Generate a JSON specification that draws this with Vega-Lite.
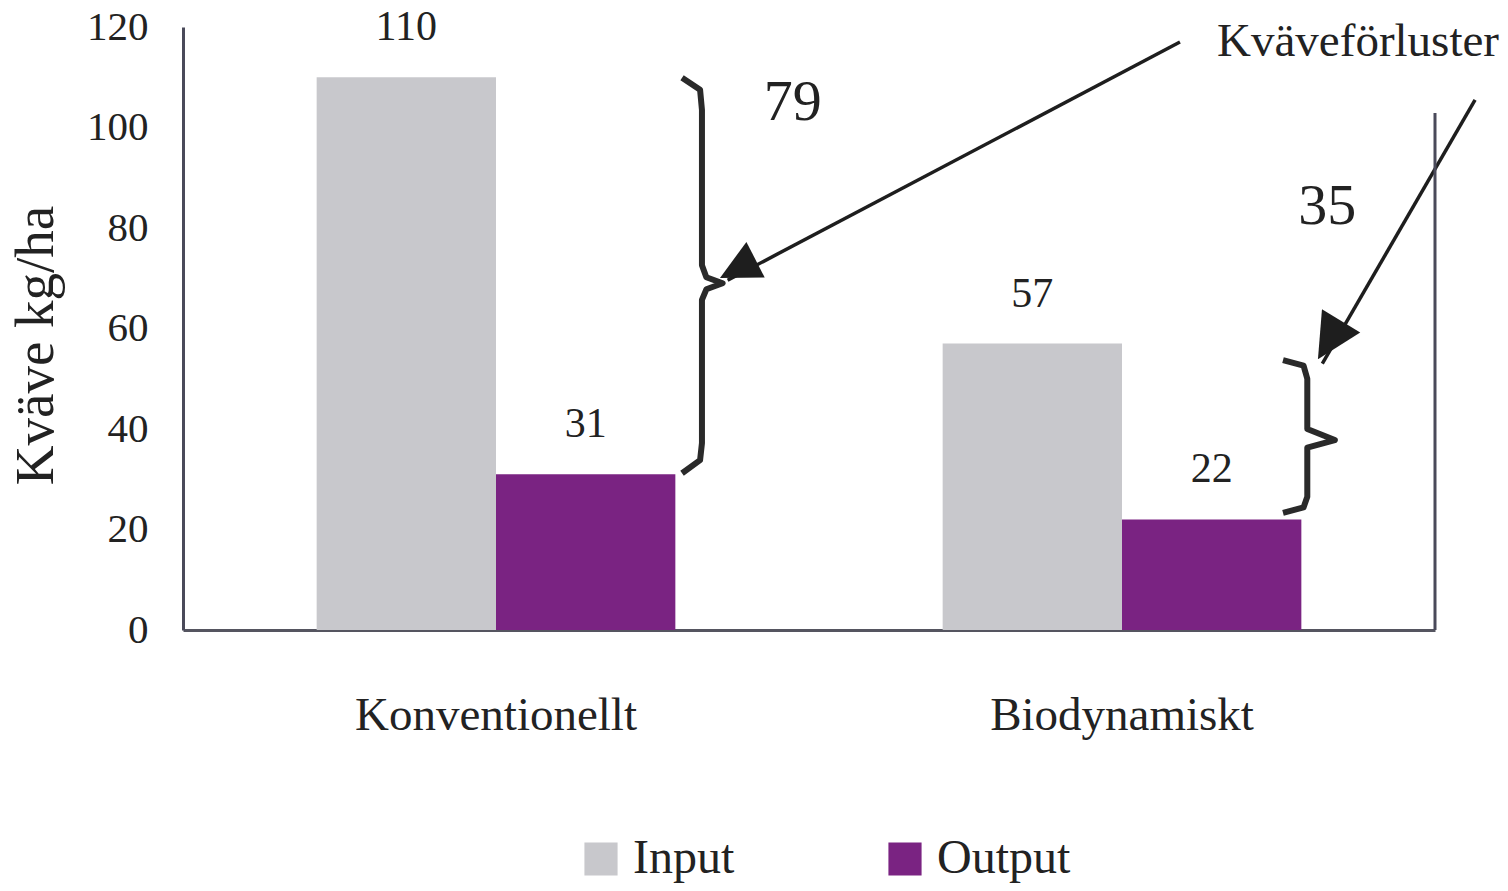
{
  "$schema": "https://vega.github.io/schema/vega-lite/v6.json",
  "width": 1252,
  "height": 603,
  "autosize": "none",
  "padding": {"left": 183, "top": 27, "right": 73, "bottom": 261},
  "background": "white",
  "config": {
    "view": {"stroke": null},
    "font": "Liberation Serif",
    "text": {"font": "Liberation Serif", "color": "#222222"}
  },
  "datasets": {
    "bars": [
      {"system": "Konventionellt", "kind": "Input", "value": 110},
      {"system": "Konventionellt", "kind": "Output", "value": 31},
      {"system": "Biodynamiskt", "kind": "Input", "value": 57},
      {"system": "Biodynamiskt", "kind": "Output", "value": 22}
    ],
    "braces": [
      {"brace": "a", "i": 0, "x": 39.86, "y": 109.9},
      {"brace": "a", "i": 1, "x": 41.3, "y": 107.5},
      {"brace": "a", "i": 2, "x": 41.45, "y": 103.5},
      {"brace": "a", "i": 3, "x": 41.45, "y": 72.6},
      {"brace": "a", "i": 4, "x": 41.8, "y": 70.2},
      {"brace": "a", "i": 5, "x": 43.1, "y": 69.0},
      {"brace": "a", "i": 6, "x": 41.8, "y": 67.8},
      {"brace": "a", "i": 7, "x": 41.45, "y": 65.7},
      {"brace": "a", "i": 8, "x": 41.45, "y": 37.2},
      {"brace": "a", "i": 9, "x": 41.3, "y": 33.8},
      {"brace": "a", "i": 10, "x": 39.86, "y": 31.2},
      {"brace": "b", "i": 0, "x": 87.86, "y": 53.7},
      {"brace": "b", "i": 1, "x": 89.5, "y": 52.6},
      {"brace": "b", "i": 2, "x": 89.8, "y": 50.0},
      {"brace": "b", "i": 3, "x": 89.8, "y": 40.0},
      {"brace": "b", "i": 4, "x": 92.0, "y": 37.8},
      {"brace": "b", "i": 5, "x": 89.8, "y": 36.3},
      {"brace": "b", "i": 6, "x": 89.8, "y": 26.5},
      {"brace": "b", "i": 7, "x": 89.5, "y": 24.4},
      {"brace": "b", "i": 8, "x": 87.86, "y": 23.3}
    ],
    "arrows": [
      {"arrow": "a", "i": 0, "x": 79.63, "y": 117.0},
      {"arrow": "a", "i": 1, "x": 43.5, "y": 69.6},
      {"arrow": "b", "i": 0, "x": 103.2, "y": 105.5},
      {"arrow": "b", "i": 1, "x": 91.0, "y": 53.0}
    ],
    "headA": [{"x": 42.89, "y": 70.05}],
    "headB": [{"x": 90.65, "y": 53.9}],
    "bigNums": [
      {"label": "79", "x": 48.7, "y": 104.9},
      {"label": "35", "x": 91.4, "y": 84.2}
    ],
    "note": [{"label": "Kväveförluster", "x": 93.85, "y": 117.0}],
    "frame": [{"x": 100, "y": 102.9, "y2": 0}]
  },
  "layer": [
    {
      "data": {"name": "bars"},
      "encoding": {
        "x": {
          "field": "system",
          "type": "nominal",
          "sort": ["Konventionellt", "Biodynamiskt"],
          "scale": {"paddingInner": 0.427, "paddingOuter": 0.2135},
          "axis": {
            "title": null,
            "labelAngle": 0,
            "labelLimit": 0,
            "labelFont": "Liberation Serif",
            "labelFontSize": 47,
            "labelColor": "#222222",
            "labelPadding": 62,
            "ticks": false,
            "domainColor": "#555560",
            "domainWidth": 3
          }
        },
        "xOffset": {"field": "kind", "type": "nominal", "sort": ["Input", "Output"], "scale": {"paddingInner": 0, "paddingOuter": 0}},
        "y": {
          "field": "value",
          "type": "quantitative",
          "scale": {"domain": [0, 120], "nice": false},
          "axis": {
            "title": "Kväve kg/ha",
            "titleFont": "Liberation Serif",
            "titleFontSize": 55,
            "titleFontWeight": "normal",
            "titleColor": "#222222",
            "titleAngle": -90,
            "titleAlign": "center",
            "titleBaseline": "middle",
            "titleX": -148,
            "titleY": 318,
            "values": [0, 20, 40, 60, 80, 100, 120],
            "labelFont": "Liberation Serif",
            "labelFontSize": 41,
            "labelColor": "#222222",
            "labelPadding": 35,
            "ticks": false,
            "grid": false,
            "domainColor": "#4a4a5a",
            "domainWidth": 3
          }
        }
      },
      "layer": [
        {
          "mark": {"type": "bar"},
          "encoding": {
            "color": {
              "field": "kind",
              "type": "nominal",
              "scale": {"domain": ["Input", "Output"], "range": ["#c8c8cc", "#7a2382"]},
              "legend": {
                "title": null,
                "orient": "none",
                "direction": "horizontal",
                "legendX": 394,
                "legendY": 808,
                "symbolType": "square",
                "symbolSize": 1100,
                "symbolStrokeWidth": 0,
                "labelFont": "Liberation Serif",
                "labelFontSize": 48,
                "labelColor": "#222222",
                "labelOffset": 8,
                "columnPadding": 146
              }
            }
          }
        },
        {
          "mark": {"type": "text", "fontSize": 42, "baseline": "alphabetic", "dy": -37, "color": "#222222"},
          "encoding": {"text": {"field": "value", "type": "quantitative"}}
        }
      ]
    },
    {
      "layer": [
        {
          "data": {"name": "braces"},
          "mark": {"type": "line", "color": "#2a2a2a", "strokeWidth": 6, "strokeJoin": "round"},
          "encoding": {
            "x": {"field": "x", "type": "quantitative", "scale": {"domain": [0, 100], "nice": false, "zero": false}, "axis": null},
            "y": {"field": "y", "type": "quantitative", "axis": null},
            "detail": {"field": "brace"},
            "order": {"field": "i", "type": "quantitative"}
          }
        },
        {
          "data": {"name": "arrows"},
          "mark": {"type": "line", "color": "#1e1e1e", "strokeWidth": 3.5},
          "encoding": {
            "x": {"field": "x", "type": "quantitative", "scale": {"domain": [0, 100], "nice": false, "zero": false}, "axis": null},
            "y": {"field": "y", "type": "quantitative", "axis": null},
            "detail": {"field": "arrow"},
            "order": {"field": "i", "type": "quantitative"}
          }
        },
        {
          "data": {"name": "headA"},
          "mark": {"type": "point", "shape": "M0,0L1,2L-1,2Z", "filled": true, "color": "#1e1e1e", "opacity": 1, "size": 1600, "angle": 242.8},
          "encoding": {
            "x": {"field": "x", "type": "quantitative", "scale": {"domain": [0, 100], "nice": false, "zero": false}, "axis": null},
            "y": {"field": "y", "type": "quantitative", "axis": null}
          }
        },
        {
          "data": {"name": "headB"},
          "mark": {"type": "point", "shape": "M0,0L1,2L-1,2Z", "filled": true, "color": "#1e1e1e", "opacity": 1, "size": 2000, "angle": 211.2},
          "encoding": {
            "x": {"field": "x", "type": "quantitative", "scale": {"domain": [0, 100], "nice": false, "zero": false}, "axis": null},
            "y": {"field": "y", "type": "quantitative", "axis": null}
          }
        },
        {
          "data": {"name": "bigNums"},
          "mark": {"type": "text", "fontSize": 58, "baseline": "middle", "align": "center", "color": "#222222"},
          "encoding": {
            "x": {"field": "x", "type": "quantitative", "scale": {"domain": [0, 100], "nice": false, "zero": false}, "axis": null},
            "y": {"field": "y", "type": "quantitative", "axis": null},
            "text": {"field": "label"}
          }
        },
        {
          "data": {"name": "note"},
          "mark": {"type": "text", "fontSize": 47, "baseline": "middle", "align": "center", "color": "#222222"},
          "encoding": {
            "x": {"field": "x", "type": "quantitative", "scale": {"domain": [0, 100], "nice": false, "zero": false}, "axis": null},
            "y": {"field": "y", "type": "quantitative", "axis": null},
            "text": {"field": "label"}
          }
        },
        {
          "data": {"name": "frame"},
          "mark": {"type": "rule", "color": "#4a4a5a", "strokeWidth": 3},
          "encoding": {
            "x": {"field": "x", "type": "quantitative", "scale": {"domain": [0, 100], "nice": false, "zero": false}, "axis": null},
            "y": {"field": "y", "type": "quantitative", "axis": null},
            "y2": {"field": "y2"}
          }
        }
      ]
    }
  ],
  "resolve": {"scale": {"x": "independent"}, "axis": {"y": "independent"}}
}
